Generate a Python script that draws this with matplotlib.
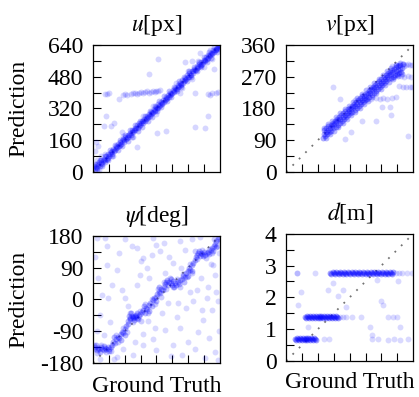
"""
Prediction vs ground truth scatter plots for u, v, psi and d
"""
import numpy as np
import matplotlib
matplotlib.use("Agg")
import matplotlib.pyplot as plt

plt.rcParams['font.family'] = ['Liberation Serif', 'DejaVu Serif']
plt.rcParams['mathtext.fontset'] = 'stix'

# ---- u [px] : (ground truth, prediction)
u_stream = [(2, 18), (6, 30), (10, 14), (14, 26), (18, 40), (22, 22), (26, 36), (30, 48), (34, 30),
            (38, 44), (42, 58), (46, 40), (50, 54), (54, 66), (58, 50), (62, 62), (66, 78), (70, 64),
            (74, 72), (78, 90), (82, 78), (86, 92), (90, 100), (94, 88), (98, 106), (102, 116),
            (106, 104), (110, 112), (114, 128), (118, 118), (122, 126), (126, 140), (130, 130),
            (134, 136), (138, 150), (142, 142), (146, 154), (150, 164), (154, 152), (158, 160),
            (162, 176), (166, 166), (170, 172), (174, 186), (178, 176), (182, 188), (186, 198),
            (190, 186), (194, 202), (198, 212), (202, 200), (206, 210), (210, 222), (214, 212),
            (218, 220), (222, 234), (226, 222), (230, 232), (234, 246), (238, 236), (242, 244),
            (246, 256), (250, 248), (254, 254), (258, 268), (262, 258), (266, 266), (270, 280),
            (274, 272), (278, 276), (282, 292), (286, 284), (290, 290), (294, 304), (298, 296),
            (302, 300), (306, 316), (310, 306), (314, 312), (318, 328), (322, 320), (326, 324),
            (330, 340), (334, 330), (338, 336), (342, 350), (346, 344), (350, 348), (354, 364),
            (358, 354), (362, 362), (366, 376), (370, 368), (374, 372), (378, 388), (382, 378),
            (386, 386), (390, 400), (394, 392), (398, 396), (402, 412), (406, 402), (410, 408),
            (414, 424), (418, 416), (422, 420), (426, 436), (430, 426), (434, 432), (438, 448),
            (442, 440), (446, 444), (450, 462), (454, 450), (458, 458), (462, 472), (466, 464),
            (470, 468), (474, 486), (478, 476), (482, 480), (486, 498), (490, 488), (494, 490),
            (498, 508), (502, 498), (506, 506), (510, 520), (514, 512), (518, 514), (522, 532),
            (526, 522), (530, 530), (534, 544), (538, 536), (542, 540), (546, 556), (550, 546),
            (554, 552), (558, 566), (562, 560), (566, 562), (570, 578), (574, 570), (578, 576),
            (582, 590), (586, 584), (590, 588), (594, 600), (598, 594), (602, 600), (606, 612),
            (610, 606), (614, 612), (618, 620), (622, 616), (626, 624), (630, 628), (634, 632),
            (638, 636)]
u_stream_wide = [(10, 40), (20, 8), (35, 58), (45, 28), (60, 80), (75, 60), (85, 110), (95, 78),
                 (110, 135), (125, 108), (135, 160), (145, 128), (160, 185), (175, 158),
                 (185, 210), (195, 176), (210, 235), (225, 206), (235, 258), (245, 226),
                 (260, 282), (275, 256), (285, 308), (295, 276), (310, 330), (325, 306),
                 (335, 358), (345, 326), (360, 380), (375, 356), (385, 408), (395, 376),
                 (410, 430), (425, 406), (435, 458), (445, 426), (460, 480), (475, 456),
                 (485, 508), (495, 476), (510, 530), (525, 506), (535, 556), (545, 526),
                 (560, 580), (575, 556), (585, 605), (595, 576), (610, 628), (625, 604),
                 (635, 640), (640, 620)]
u_branch = [(60, 394), (70, 392), (80, 396), (160, 392), (170, 388), (190, 392), (200, 396),
            (210, 398), (220, 394), (230, 400), (240, 402), (250, 398), (260, 404), (270, 406),
            (280, 400), (290, 404), (300, 408), (310, 404), (320, 410), (330, 408), (340, 412),
            (580, 392), (590, 388), (600, 396), (620, 398), (630, 402), (420, 450), (450, 425),
            (480, 510), (500, 470), (530, 560), (560, 530), (590, 615), (600, 570), (300, 330),
            (320, 290), (250, 280), (200, 175), (150, 180), (100, 80), (60, 90), (30, 10)]
u_outliers = [(329, 571), (282, 495), (65, 284), (106, 245), (57, 233), (146, 199), (222, 127),
              (321, 194), (366, 208), (514, 228), (564, 221), (580, 284), (514, 398), (463, 554),
              (27, 132), (10, 106), (153, 386), (133, 368), (40, 80), (20, 60), (15, 150),
              (90, 230), (500, 560), (610, 520), (540, 600), (440, 395)]

# ---- v [px]
v_band = [(104, 96), (106, 108), (108, 118), (110, 101), (112, 113), (114, 123), (116, 107),
          (118, 119), (120, 129), (122, 112), (124, 124), (126, 134), (128, 117), (130, 129),
          (132, 139), (134, 123), (136, 135), (138, 145), (140, 128), (142, 140), (144, 150),
          (146, 134), (148, 146), (150, 156), (152, 139), (154, 151), (156, 161), (158, 144),
          (160, 156), (162, 166), (164, 150), (166, 162), (168, 172), (170, 155), (172, 167),
          (174, 177), (176, 160), (178, 172), (180, 182), (182, 166), (184, 178), (186, 188),
          (188, 171), (190, 183), (192, 193), (194, 176), (196, 188), (198, 198), (200, 181),
          (202, 193), (204, 203), (206, 187), (208, 199), (210, 209), (212, 192), (214, 204),
          (216, 214), (218, 197), (220, 209), (222, 219), (224, 203), (226, 215), (228, 225),
          (230, 208), (232, 220), (234, 230), (236, 213), (238, 225), (240, 235), (242, 219),
          (244, 231), (246, 241), (248, 225), (250, 237), (252, 247), (254, 230), (256, 242),
          (258, 252), (260, 235), (262, 247), (264, 257), (266, 241), (268, 253), (270, 263),
          (272, 246), (274, 258), (276, 268), (278, 252), (280, 264), (282, 274), (284, 257),
          (286, 269), (288, 279), (290, 262), (292, 274), (294, 284), (296, 266), (298, 278),
          (300, 288), (302, 270), (304, 282), (306, 292), (308, 274), (310, 286), (312, 296),
          (314, 277), (316, 289), (318, 299), (320, 280), (322, 292), (324, 302), (326, 283),
          (328, 295), (330, 305)]
v_band_wide = [(106, 124), (112, 95), (118, 135), (124, 106), (130, 145), (136, 117), (142, 156),
               (148, 128), (154, 167), (160, 138), (166, 178), (172, 149), (178, 188), (184, 160),
               (190, 199), (196, 170), (202, 209), (208, 181), (214, 220), (220, 191), (226, 231),
               (232, 202), (238, 241), (244, 213), (250, 253), (256, 224), (262, 263), (268, 235),
               (274, 274), (280, 246), (286, 285), (292, 256), (298, 294), (304, 264), (310, 302),
               (316, 271), (322, 308), (328, 277)]
v_branch = [(300, 300), (310, 304), (320, 302), (330, 306), (335, 300), (340, 304), (345, 306),
            (350, 302), (358, 304), (305, 270), (315, 274), (325, 272), (335, 270), (345, 272),
            (355, 270), (320, 244), (330, 242), (340, 240), (350, 242), (358, 240), (195, 205),
            (210, 207), (225, 208), (240, 206), (255, 209), (265, 208), (275, 210), (285, 208),
            (300, 210), (310, 212)]
v_outliers = [(133, 240), (152, 207), (166, 93), (185, 112), (215, 143), (256, 143), (273, 183),
              (294, 183), (296, 160), (346, 103)]

# ---- psi [deg]
psi_stream = [(-178, -140), (-174, -136), (-170, -144), (-166, -138), (-162, -142), (-158, -136),
              (-154, -140), (-150, -144), (-146, -138), (-142, -140), (-138, -134), (-134, -142),
              (-130, -136), (-172, -130), (-160, -148), (-148, -132), (-136, -146), (-126, -128),
              (-122, -120), (-118, -124), (-114, -112), (-110, -106), (-106, -110), (-102, -98),
              (-98, -92), (-94, -96), (-90, -84), (-86, -76), (-82, -70), (-80, -60), (-76, -56),
              (-78, -48), (-74, -52), (-70, -46), (-66, -54), (-62, -50), (-58, -44), (-54, -52),
              (-50, -48), (-46, -42), (-72, -40), (-64, -58), (-56, -38), (-68, -50), (-60, -48),
              (-52, -56), (-42, -36), (-38, -30), (-34, -40), (-30, -24), (-26, -28), (-22, -16),
              (-18, -10), (-14, -18), (-10, -2), (-6, 4), (-2, 8), (2, 14), (6, 22), (10, 18),
              (14, 30), (18, 26), (22, 36), (24, 44), (28, 48), (32, 40), (36, 50), (40, 46),
              (44, 42), (48, 52), (52, 46), (56, 40), (60, 50), (64, 44), (68, 54), (30, 56),
              (50, 36), (42, 58), (72, 58), (76, 66), (80, 62), (84, 74), (88, 80), (92, 88),
              (96, 84), (100, 96), (104, 104), (108, 112), (112, 120), (114, 126), (118, 130),
              (122, 124), (126, 132), (130, 128), (134, 134), (138, 126), (142, 130), (146, 134),
              (150, 128), (120, 136), (132, 122), (154, 140), (158, 146), (162, 152), (166, 158),
              (170, 166), (174, 172), (178, 176), (-120, -108), (-100, -116), (-88, -100),
              (-36, -20), (-20, -34), (0, -6), (8, 34), (78, 48), (90, 66), (100, 80), (160, 136),
              (168, 148)]
psi_stream_wide = [(-176, -128), (-168, -152), (-156, -130), (-144, -150), (-128, -146),
                   (-116, -100), (-108, -122), (-96, -80), (-84, -92), (-76, -38), (-66, -64),
                   (-48, -32), (-44, -60), (-32, -14), (-24, -40), (-12, 0), (-4, -12), (4, 28),
                   (12, 8), (20, 50), (26, 30), (38, 60), (46, 34), (58, 58), (66, 36), (74, 72),
                   (86, 62), (94, 100), (102, 74), (110, 136), (116, 114), (128, 140),
                   (140, 118), (148, 142), (156, 130), (164, 170), (172, 152), (179, 165)]
psi_outliers = [(-170, 174), (-146, 174), (-89, 170), (-70, 151), (-113, 84), (-141, 98),
                (-155, 13), (-137, 3), (-99, 27), (-89, 3), (-56, 41), (-47, 70), (-28, 89),
                (-9, 174), (0, 155), (10, 136), (-14, 127), (67, 165), (100, 170), (124, 176),
                (166, 70), (175, -6), (156, -30), (133, -58), (118, -92), (90, -120), (67, -82),
                (71, -158), (137, -167), (166, -149), (175, -172), (48, -130), (24, -87),
                (0, -144), (-9, -111), (-5, -82), (-37, -97), (-37, -130), (-66, -158),
                (-113, -163), (-160, -168), (-132, -63), (-160, -44), (142, 3), (104, -6),
                (85, -25), (57, -49), (34, -11), (161, 98), (147, 36), (114, 27), (48, 103),
                (24, 75), (-37, 117), (-56, 146), (-175, 120), (-165, 60), (-150, -100),
                (-125, 40), (-105, 130), (-80, -20), (-60, -120), (-45, 110), (-20, 60),
                (-25, -60), (15, -40), (20, 160), (35, 120), (40, -160), (60, -10), (80, 140),
                (95, 20), (110, -140), (125, 60), (130, -30), (150, -110), (155, 100), (170, 20),
                (176, -90), (178, 130), (-120, -170), (-95, -140), (70, 90), (-170, -90),
                (-140, 150)]

# ---- d [m]
d_band1_gt = [0.28, 0.31, 0.34, 0.37, 0.40, 0.43, 0.46, 0.49, 0.52, 0.55, 0.58, 0.61, 0.64,
              0.67, 0.70, 0.73, 0.76, 0.79, 0.82, 0.85, 0.88, 0.91, 0.94]
d_band1_pred = [0.68, 0.65, 0.71, 0.68, 0.65, 0.71, 0.68, 0.65, 0.71, 0.68, 0.65, 0.71, 0.68,
                0.65, 0.71, 0.68, 0.65, 0.71, 0.68, 0.65, 0.71, 0.68, 0.65]
d_band2_gt = [0.60, 0.63, 0.66, 0.69, 0.72, 0.75, 0.78, 0.81, 0.84, 0.87, 0.90, 0.93, 0.96,
              0.99, 1.02, 1.05, 1.08, 1.11, 1.14, 1.17, 1.20, 1.23, 1.26, 1.29, 1.32, 1.35,
              1.38, 1.41, 1.44, 1.47, 1.50, 1.53, 1.56, 1.59, 1.62]
d_band2_pred = [1.38, 1.35, 1.41, 1.38, 1.35, 1.41, 1.38, 1.35, 1.41, 1.38, 1.35, 1.41, 1.38,
                1.35, 1.41, 1.38, 1.35, 1.41, 1.38, 1.35, 1.41, 1.38, 1.35, 1.41, 1.38, 1.35,
                1.41, 1.38, 1.35, 1.41, 1.38, 1.35, 1.41, 1.38, 1.35]
d_band3_gt = [1.38, 1.42, 1.46, 1.50, 1.54, 1.58, 1.62, 1.66, 1.70, 1.74, 1.78, 1.82, 1.86,
              1.90, 1.94, 1.98, 2.02, 2.06, 2.10, 2.14, 2.18, 2.22, 2.26, 2.30, 2.34, 2.38,
              2.42, 2.46, 2.50, 2.54, 2.58, 2.62, 2.66, 2.70, 2.74, 2.78, 2.82, 2.86, 2.90,
              2.94, 2.98, 3.02, 3.06, 3.10, 3.14, 3.18, 3.22, 3.26, 3.30, 3.34, 3.38]
d_band3_pred = [2.78, 2.75, 2.81, 2.78, 2.75, 2.81, 2.78, 2.75, 2.81, 2.78, 2.75, 2.81, 2.78,
                2.75, 2.81, 2.78, 2.75, 2.81, 2.78, 2.75, 2.81, 2.78, 2.75, 2.81, 2.78, 2.75,
                2.81, 2.78, 2.75, 2.81, 2.78, 2.75, 2.81, 2.78, 2.75, 2.81, 2.78, 2.75, 2.81,
                2.78, 2.75, 2.81, 2.78, 2.75, 2.81, 2.78, 2.75, 2.81, 2.78, 2.75, 2.81]
d_outliers = [(1.70, 1.38), (1.78, 1.38), (1.88, 1.38), (2.06, 1.38), (2.35, 1.38),
              (3.20, 1.38), (3.35, 1.38), (3.50, 1.38), (3.45, 2.78), (3.55, 2.78),
              (3.65, 2.78), (3.80, 2.78), (3.95, 2.78), (0.33, 2.78), (0.35, 2.78),
              (0.90, 2.78), (1.20, 0.68), (1.35, 0.68), (2.70, 0.70), (2.90, 0.68),
              (3.20, 0.66), (3.40, 0.68), (3.60, 0.66), (3.85, 0.70), (0.48, 2.18),
              (0.38, 1.76), (0.69, 1.06), (1.32, 2.24), (1.48, 2.45), (1.80, 2.24),
              (1.64, 2.03), (1.90, 1.71), (2.64, 1.08), (2.85, 2.55), (3.00, 1.87),
              (3.06, 1.76), (3.53, 2.50), (3.58, 1.08), (2.69, 0.82)]

# ---- panel settings
titles = ["$u$[px]", "$v$[px]", r"$\psi$[deg]", "$d$[m]"]
limits = [(0, 640), (0, 360), (-180, 180), (0, 4)]
tick_labels = [["0", "160", "320", "480", "640"], ["0", "90", "180", "270", "360"],
               ["-180", "-90", "0", "90", "180"], ["0", "1", "2", "3", "4"]]


def pairs(p):
    a = np.array(p, dtype=float)
    return a[:, 0], a[:, 1]


# (points, alpha) per group
panels = [
    [(pairs(u_stream), 0.28), (pairs(u_stream_wide), 0.25), (pairs(u_branch), 0.16),
     (pairs(u_outliers), 0.16)],
    [(pairs(v_band), 0.32), (pairs(v_band_wide), 0.28), (pairs(v_branch), 0.16),
     (pairs(v_outliers), 0.16)],
    [(pairs(psi_stream), 0.28), (pairs(psi_stream_wide), 0.2), (pairs(psi_outliers), 0.15)],
    [((np.array(d_band1_gt), np.array(d_band1_pred)), 0.35),
     ((np.array(d_band2_gt), np.array(d_band2_pred)), 0.35),
     ((np.array(d_band3_gt), np.array(d_band3_pred)), 0.35), (pairs(d_outliers), 0.15)],
]

fig = plt.figure(figsize=(4.19, 3.97), dpi=100)
boxes = [[0.222, 0.567, 0.303, 0.320], [0.683, 0.567, 0.303, 0.320],
         [0.222, 0.086, 0.303, 0.320], [0.683, 0.091, 0.303, 0.320]]
xlabel_y = [None, None, -0.10, -0.085]
fs = 17

for i in range(4):
    ax = fig.add_axes(boxes[i])
    lo, hi = limits[i]
    ax.plot([lo, hi], [lo, hi], color='0.45', linestyle=(0, (1, 4)), linewidth=1.3, zorder=1)
    for (gt, pred), a in panels[i]:
        ax.scatter(gt, pred, s=18, color='blue', alpha=a, linewidths=0, zorder=2)
    ax.set_xlim(lo, hi)
    ax.set_ylim(lo, hi)
    step = (hi - lo) / 8
    ax.set_xticks(np.arange(lo + step, hi, step))
    ax.set_xticklabels([])
    ax.set_yticks(np.linspace(lo, hi, 5))
    ax.set_yticklabels(tick_labels[i])
    ax.set_yticks(np.arange(lo + step, hi, 2 * step), minor=True)
    ax.tick_params(direction='in', length=6, width=0.8, labelsize=fs, pad=7,
                   top=False, right=False)
    ax.tick_params(which='minor', direction='in', length=6, width=0.8, right=False)
    for sp in ax.spines.values():
        sp.set_linewidth(0.9)
    ax.set_title(titles[i], fontsize=fs, pad=10)
    if i % 2 == 0:
        ax.set_ylabel("Prediction", fontsize=fs)
        ax.yaxis.set_label_coords(-0.50, 0.5)
    if i >= 2:
        ax.set_xlabel("Ground Truth", fontsize=fs)
        ax.xaxis.set_label_coords(0.5, xlabel_y[i])

plt.savefig("out.png", dpi=100)
